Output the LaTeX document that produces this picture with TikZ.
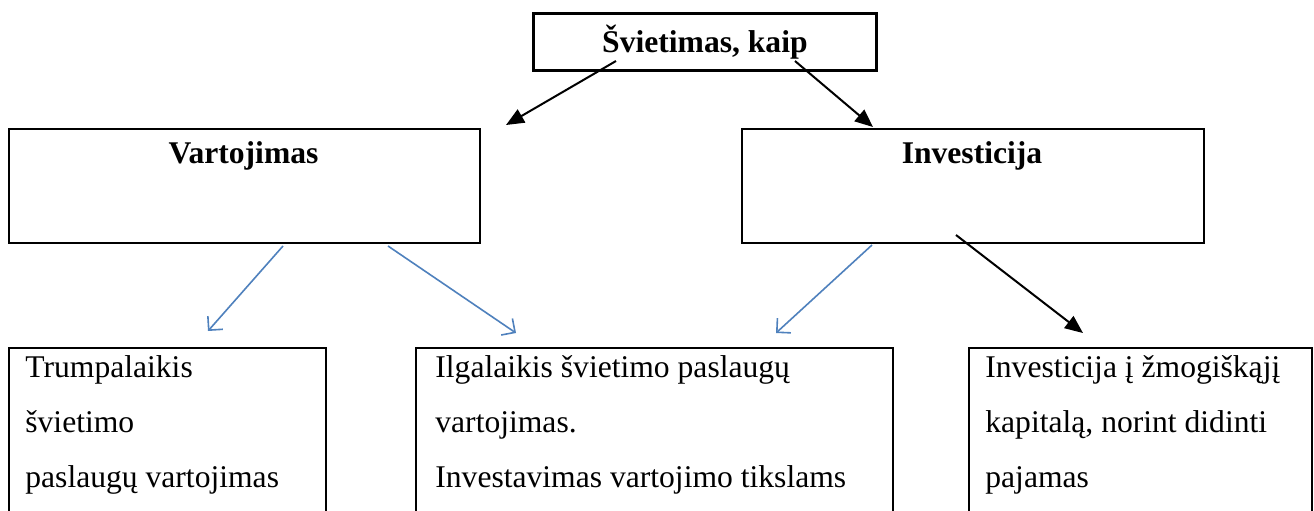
\documentclass[tikz,border=0pt]{standalone}
\usepackage{fontspec}
\setmainfont{Liberation Serif}
\usetikzlibrary{arrows.meta}
\definecolor{arrowblue}{HTML}{4F81BD}
\begin{document}
\begin{tikzpicture}[x=0.5pt,y=-0.5pt,
  box/.style={draw=black,line width=1pt,inner sep=0pt,anchor=north west},
  topbox/.style={box,line width=1.4pt},
  title/.style={font=\fontsize{15.8}{19}\selectfont\bfseries,inner sep=0pt},
  body/.style={font=\fontsize{15.8}{27.5}\selectfont,align=left,inner sep=0pt,anchor=north west},
  blackarrow/.style={draw=black,line width=1pt,-{Triangle[length=9pt,width=7.5pt]}},
  bluearrow/.style={draw=arrowblue,line width=0.8pt,-{Straight Barb[length=5pt,width=10pt,line width=0.8pt]}}]
\fill[white] (0,0) rectangle (1314,510);
\useasboundingbox (0,0) rectangle (1314,510);
\clip (0,0) rectangle (1314,510);
% boxes
\node[topbox,minimum width=171.5pt,minimum height=28.5pt] (top) at (532,12) {};
\node[title] (toptxt) at (top.center) {Švietimas, kaip};
\node[box,minimum width=235.5pt,minimum height=57pt] (vart) at (8,128) {};
\node[title,anchor=base] (vtxt) at (243.5,163) {Vartojimas};
\node[box,minimum width=231pt,minimum height=57pt] (inv) at (741,128) {};
\node[title,anchor=base] (itxt) at (972,163) {Investicija};
\node[box,minimum width=158.5pt,minimum height=100pt] (b1) at (8,347) {};
\node[box,minimum width=238.5pt,minimum height=100pt] (b2) at (415,347) {};
\node[box,minimum width=171.5pt,minimum height=100pt] (b3) at (968,347) {};
\node[body] (t1) at (25,338.5) {\strut Trumpalaikis\\švietimo\\paslaugų vartojimas};
\node[body] (t2) at (435,338.5) {\strut Ilgalaikis švietimo paslaugų\\vartojimas.\\Investavimas vartojimo tikslams};
\node[body] (t3) at (985,338.5) {\strut Investicija į žmogiškąjį\\kapitalą, norint didinti\\pajamas};
% arrow end points
\coordinate (a1s) at (616,61);
\coordinate (a1e) at (506,125);
\coordinate (a2s) at (795,61);
\coordinate (a2e) at (873,127);
\coordinate (a3s) at (956,235);
\coordinate (a3e) at (1083,333);
\coordinate (b1s) at (283,246);
\coordinate (b1e) at (208,331);
\coordinate (b2s) at (388,246);
\coordinate (b2e) at (516,333);
\coordinate (b3s) at (872,245);
\coordinate (b3e) at (776,333);
\draw[blackarrow] (a1s) -- (a1e);
\draw[blackarrow] (a2s) -- (a2e);
\draw[blackarrow] (a3s) -- (a3e);
\draw[bluearrow] (b1s) -- (b1e);
\draw[bluearrow] (b2s) -- (b2e);
\draw[bluearrow] (b3s) -- (b3e);
\end{tikzpicture}
\end{document}
